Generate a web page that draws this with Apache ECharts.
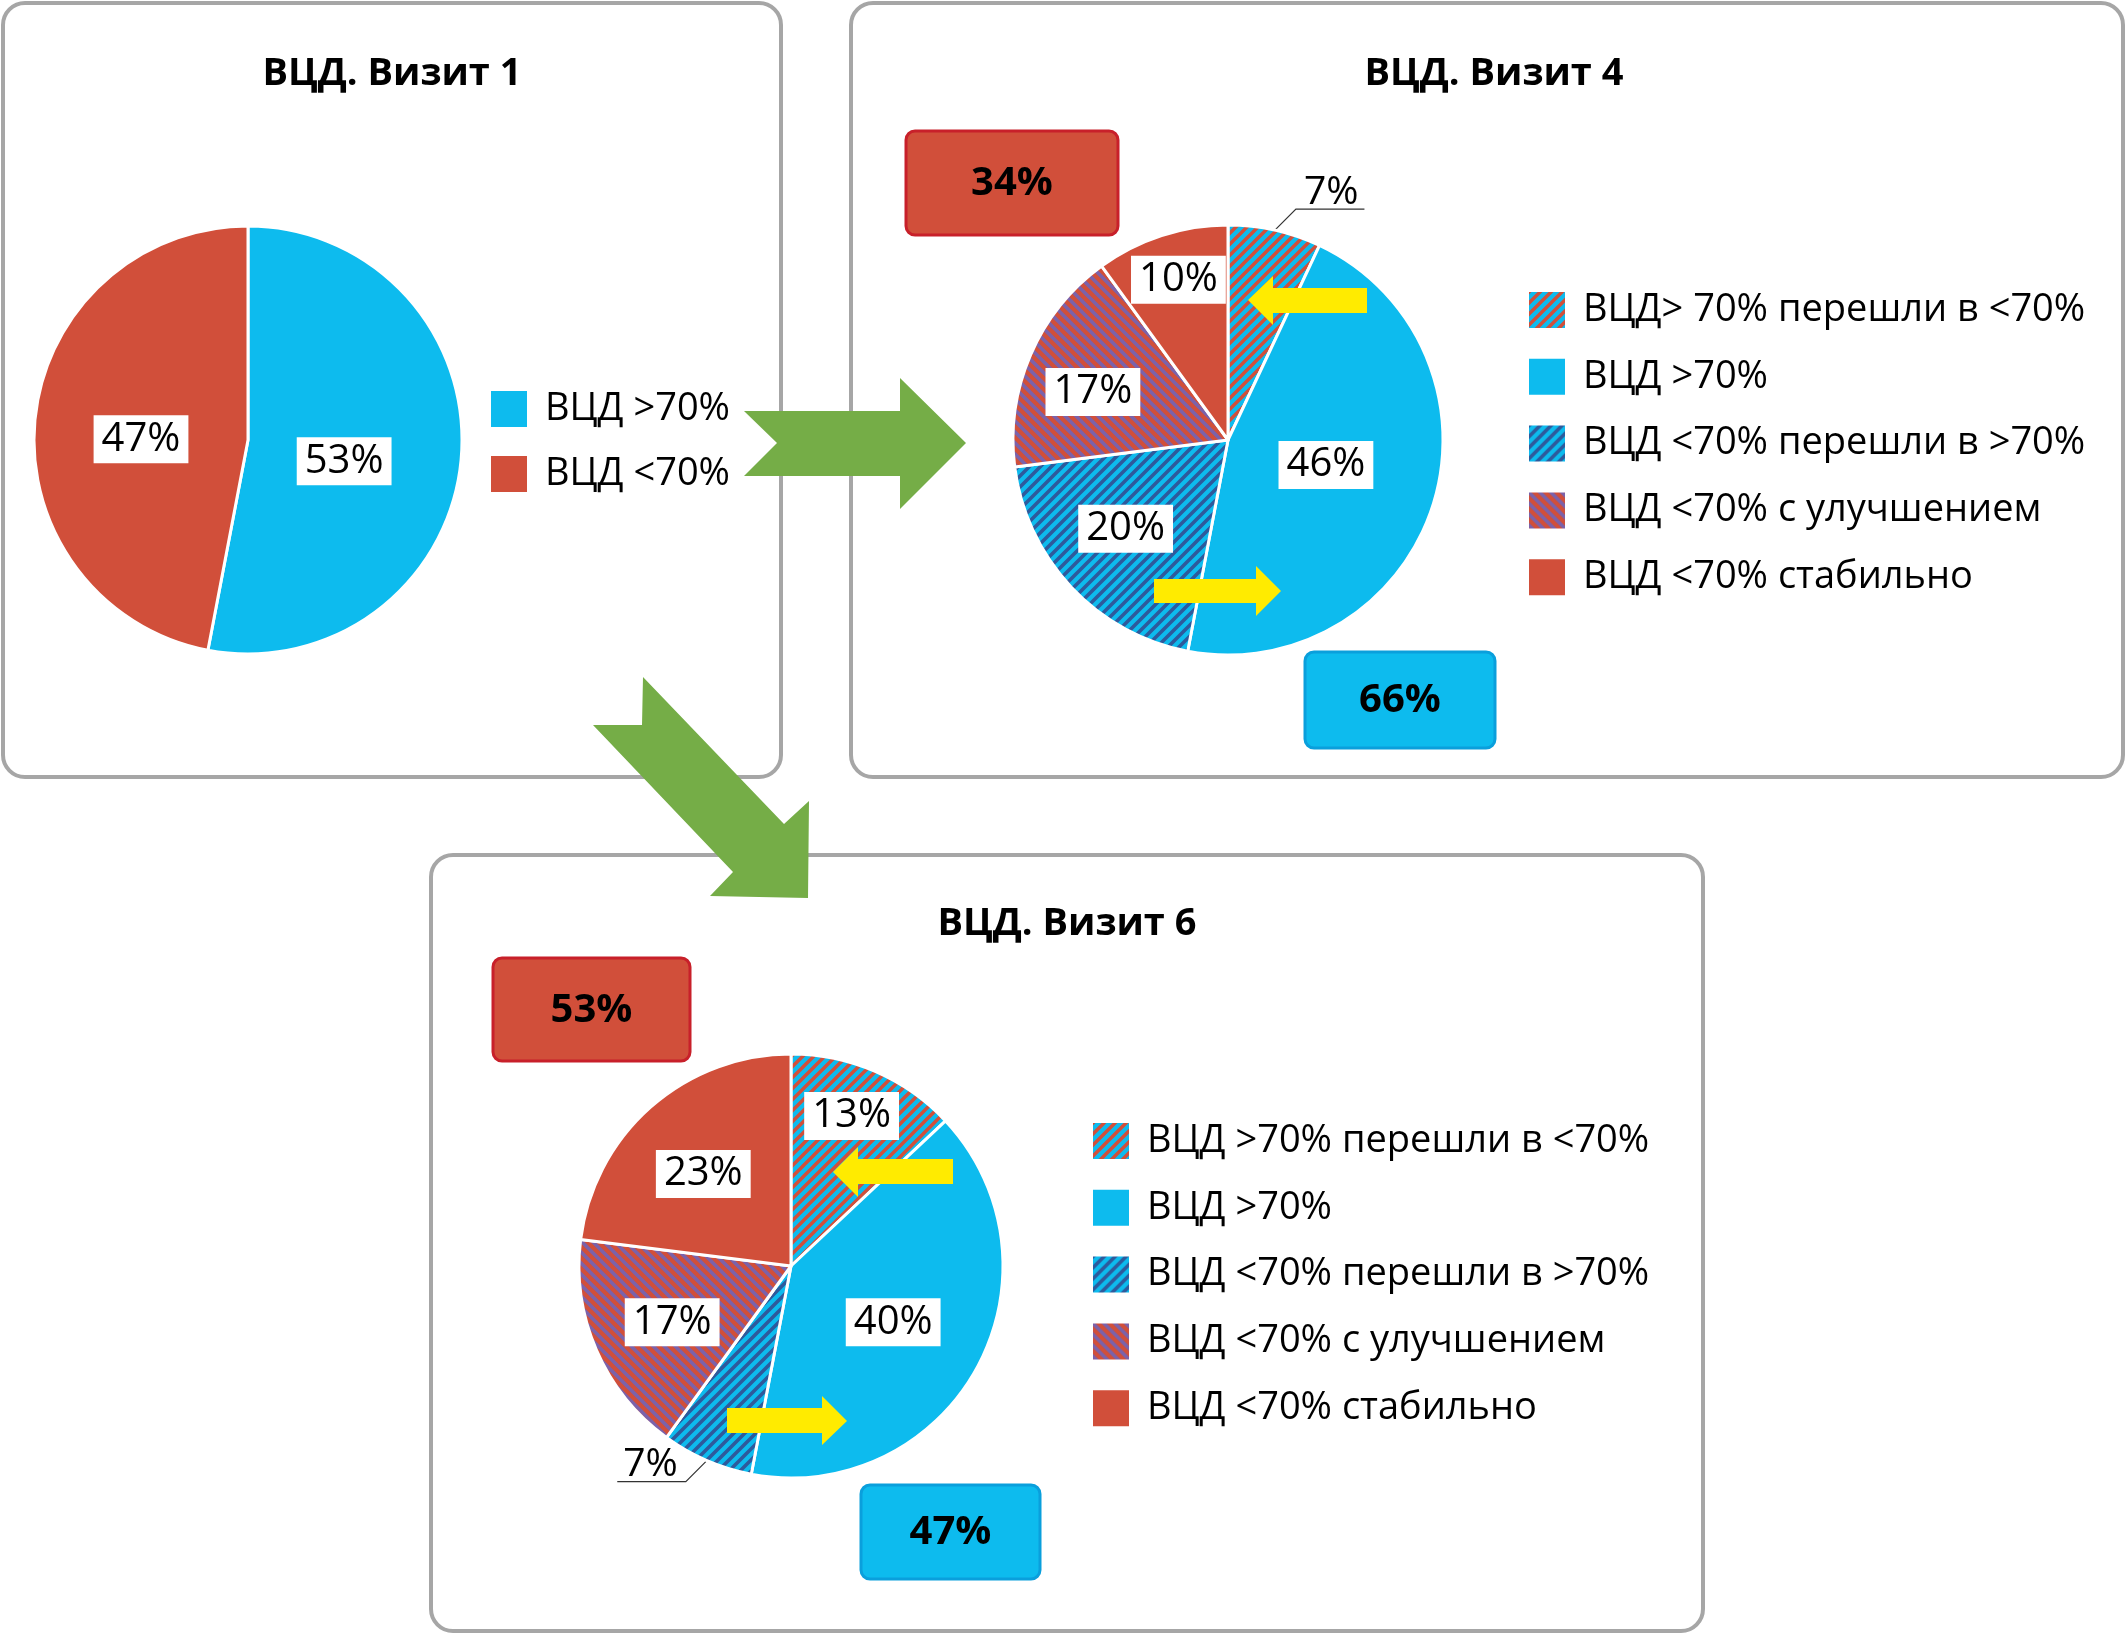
<!DOCTYPE html>
<html>
<head>
<meta charset="utf-8">
<script src="https://cdn.jsdelivr.net/npm/echarts@6/dist/echarts.min.js"></script>
<style>
html,body{margin:0;padding:0;background:#fff;}
#chart{width:2126px;height:1634px;}
</style>
</head>
<body>
<div id="chart"></div>
<script>
// ---------- DATA ----------
const titles = ['ВЦД. Визит 1', 'ВЦД. Визит 4', 'ВЦД. Визит 6'];
const categories1 = ['ВЦД >70%', 'ВЦД <70%'];
const values1 = [53, 47];
const categories4 = ['ВЦД> 70% перешли в <70%', 'ВЦД >70%', 'ВЦД <70% перешли в >70%', 'ВЦД <70% с улучшением', 'ВЦД <70% стабильно'];
const values4 = [7, 46, 20, 17, 10];
const categories6 = ['ВЦД >70% перешли в <70%', 'ВЦД >70%', 'ВЦД <70% перешли в >70%', 'ВЦД <70% с улучшением', 'ВЦД <70% стабильно'];
const values6 = [13, 40, 7, 17, 23];
// groups: slices now below 70% (red box) and above 70% (blue box)
const redGroup = [0, 3, 4];
const blueGroup = [1, 2];

// ---------- STYLE ----------
const FONT = '"Open Sans", "Noto Sans", sans-serif';
const BLUE = '#0DBBEE';
const RED = '#D14F3A';
const DARKBLUE = '#2E5A9C';
const PURPLE = '#7B62AA';
const GREEN = '#75AD47';
const YELLOW = '#FFEB00';

function stripePattern(bg, fg, slash, lw) {
  const S = 11;
  const c = document.createElement('canvas');
  c.width = S; c.height = S;
  const g = c.getContext('2d');
  g.fillStyle = bg; g.fillRect(0, 0, S, S);
  g.strokeStyle = fg; g.lineWidth = lw;
  g.beginPath();
  for (let k = -1; k <= 1; k++) {
    if (slash) { g.moveTo(k * S - S, 2 * S); g.lineTo(k * S + 2 * S, -S); }
    else { g.moveTo(k * S - S, -S); g.lineTo(k * S + 2 * S, 2 * S); }
  }
  g.stroke();
  return { image: c, repeat: 'repeat' };
}
const fillsMulti = [
  stripePattern(BLUE, RED, true, 3.4),
  BLUE,
  stripePattern(BLUE, DARKBLUE, true, 3.6),
  stripePattern(RED, PURPLE, false, 3.6),
  RED
];
const fills1 = [BLUE, RED];

const pieCenters = [[248, 440], [1228, 440], [791, 1266]];
const pieRadius = [214, 215, 212];
// inside-label placement: [fraction of radius, angular shift in degrees]; null = outside label
const labelPlace = [
  [[0.46, 7], [0.5, -5]],
  [null, [0.47, -3.7], [0.63, 2.3], [0.667, -3.8], [0.78, 0.8]],
  [[0.763, -1.4], [0.55, 0], null, [0.62, -1.9], [0.6, -2.2]]
];

function makeLabelLayout(si) {
  return function (p) {
    const place = labelPlace[si][p.dataIndex];
    const r = p.labelRect;
    if (place == null) {
      const pts = p.labelLinePoints;
      if (!pts) return {};
      const p0 = pts[0], p1 = pts[1], p2 = pts[2];
      const dir = p2[0] >= p1[0] ? 1 : -1;
      const vdir = p1[1] >= p0[1] ? 1 : -1;
      const L = 21;
      const q1 = [p0[0] + dir * L, p0[1] + vdir * L];
      const w = r.width + 14;
      return {
        x: q1[0] + dir * (w / 2 + 1),
        y: q1[1] + 3,
        align: 'center',
        verticalAlign: 'bottom',
        labelLinePoints: [p0, q1, [q1[0] + dir * w, q1[1]]]
      };
    }
    const c = pieCenters[si];
    const cx = r.x + r.width / 2, cy = r.y + r.height / 2;
    const ang = Math.atan2(cx - c[0], -(cy - c[1])) + place[1] * Math.PI / 180;
    const dist = place[0] * pieRadius[si];
    const tx = c[0] + dist * Math.sin(ang), ty = c[1] - dist * Math.cos(ang);
    return { dx: tx - cx, dy: ty - cy };
  };
}

const insideLabel = {
  show: true, position: 'inside', formatter: '{c}%',
  color: '#000', fontSize: 40, fontFamily: FONT,
  backgroundColor: '#fff', padding: [5, 8, 3, 8]
};

function buildData(cats, vals, fills, outsideIdx) {
  return cats.map((n, i) => {
    const d = { name: n, value: vals[i], itemStyle: { color: fills[i] } };
    if (i === outsideIdx) {
      d.label = { position: 'outside', backgroundColor: 'transparent', padding: 0, fontSize: 39 };
      d.labelLine = { show: true, length: 26, length2: 40, smooth: false, lineStyle: { color: '#333', width: 1.2 } };
    }
    return d;
  });
}

function pieSeries(si, cats, vals, fills, outsideIdx) {
  return {
    type: 'pie',
    center: pieCenters[si],
    radius: [0, pieRadius[si]],
    startAngle: 90,
    clockwise: true,
    avoidLabelOverlap: false,
    silent: true,
    itemStyle: { borderColor: '#fff', borderWidth: 3 },
    label: insideLabel,
    labelLine: { show: false },
    labelLayout: makeLabelLayout(si),
    data: buildData(cats, vals, fills, outsideIdx)
  };
}

function sumIdx(vals, idx) { return idx.reduce((s, i) => s + vals[i], 0); }

function panel(x, y, w, h) {
  return { type: 'rect', z: 0, shape: { x: x, y: y, width: w, height: h, r: 22 },
    style: { fill: 'none', stroke: '#A6A6A6', lineWidth: 4 } };
}
function badge(x, y, w, h, fill, stroke, text) {
  return { type: 'group', z: 50, children: [
    { type: 'rect', shape: { x: x, y: y, width: w, height: h, r: 9 }, style: { fill: fill, stroke: stroke, lineWidth: 3 } },
    { type: 'text', style: { x: x + w / 2, y: y + h / 2 + 1, text: text, align: 'center', verticalAlign: 'middle',
      fill: '#000', fontSize: 40, fontWeight: 'bold', fontFamily: FONT } }
  ] };
}
function poly(points, fill) {
  return { type: 'polygon', z: 100, shape: { points: points }, style: { fill: fill } };
}

const legendCommon = {
  orient: 'vertical', icon: 'rect', itemWidth: 36, itemHeight: 36, selectedMode: false, padding: 0,
  itemStyle: { borderWidth: 0 },
  textStyle: { fontSize: 38, color: '#000', fontFamily: FONT, lineHeight: 36, padding: [0, 0, 0, 13] }
};

const titleStyle = { fontSize: 38, fontWeight: 'bold', color: '#000', fontFamily: FONT };

const option = {
  backgroundColor: '#fff',
  animation: false,
  title: [
    { text: titles[0], left: 392, top: 55, textAlign: 'center', padding: 0, textStyle: titleStyle },
    { text: titles[1], left: 1494, top: 55, textAlign: 'center', padding: 0, textStyle: titleStyle },
    { text: titles[2], left: 1067, top: 905, textAlign: 'center', padding: 0, textStyle: titleStyle }
  ],
  legend: [
    Object.assign({}, legendCommon, { data: categories1, left: 491, top: 390, itemGap: 27 }),
    Object.assign({}, legendCommon, { data: categories4, left: 1529, top: 291, itemGap: 28.8 }),
    Object.assign({}, legendCommon, { data: categories6, left: 1093, top: 1122, itemGap: 28.8 })
  ],
  series: [
    pieSeries(0, categories1, values1, fills1, -1),
    pieSeries(1, categories4, values4, fillsMulti, 0),
    pieSeries(2, categories6, values6, fillsMulti, 2)
  ],
  graphic: [
    panel(3, 3, 778, 774),
    panel(851, 3, 1272, 774),
    panel(431, 855, 1272, 776),
    badge(906, 131, 212, 104, RED, '#C8202A', sumIdx(values4, redGroup) + '%'),
    badge(1305, 652, 190, 96, BLUE, '#0A9FDC', sumIdx(values4, blueGroup) + '%'),
    badge(493, 958, 197, 103, RED, '#C8202A', sumIdx(values6, redGroup) + '%'),
    badge(861, 1485, 179, 94, BLUE, '#0A9FDC', sumIdx(values6, blueGroup) + '%'),
    // green arrows between panels
    poly([[744, 411], [900, 411], [900, 378], [966, 443], [900, 509], [900, 476], [744, 476], [777, 443]], GREEN),
    poly([[643, 677], [784, 824], [809, 801], [808, 898], [710, 896], [733, 872], [593, 725], [642, 725]], GREEN),
    // yellow arrows inside pies
    poly([[1367, 288], [1273, 288], [1273, 276], [1248, 300], [1273, 325], [1273, 313], [1367, 313]], YELLOW),
    poly([[1154, 579], [1256, 579], [1256, 566], [1281, 591], [1256, 616], [1256, 603], [1154, 603]], YELLOW),
    poly([[953, 1159], [858, 1159], [858, 1147], [833, 1172], [858, 1197], [858, 1184], [953, 1184]], YELLOW),
    poly([[727, 1408], [822, 1408], [822, 1396], [847, 1421], [822, 1445], [822, 1433], [727, 1433]], YELLOW)
  ]
};

const chart = echarts.init(document.getElementById('chart'), null, { renderer: 'canvas', width: 2126, height: 1634 });
chart.setOption(option);
</script>
</body>
</html>
